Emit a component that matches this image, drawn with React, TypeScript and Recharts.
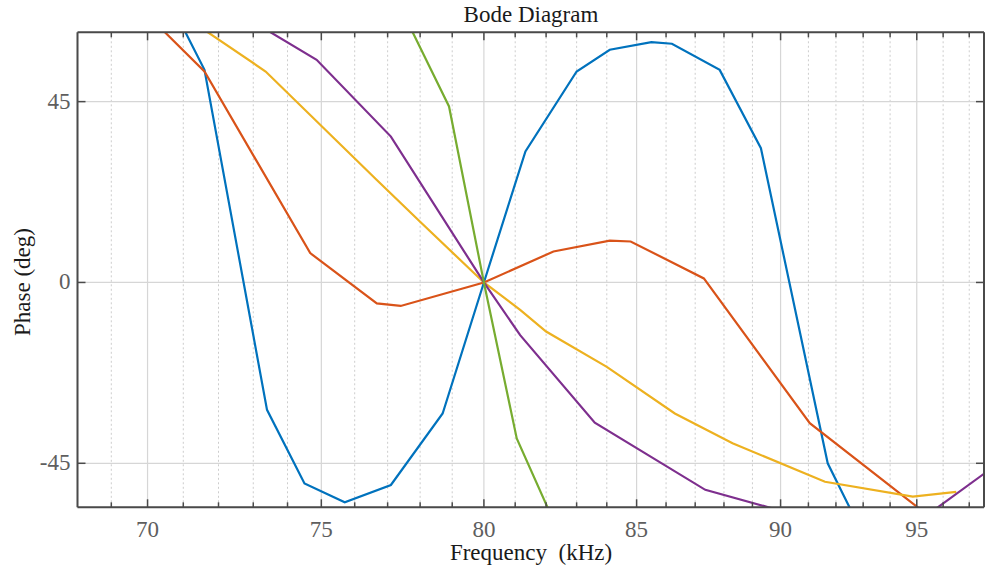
import React from 'react'
import { LineChart, Line, XAxis, YAxis, CartesianGrid } from 'recharts'

// frequency (kHz) ticks on the log axis
const majorFreqs = [70, 75, 80, 85, 90, 95]
const minorFreqs = [69, 71, 72, 73, 74, 76, 77, 78, 79, 81, 82, 83, 84, 86, 87, 88, 89, 91, 92, 93, 94, 96, 97]
const allFreqs = [69, 70, 71, 72, 73, 74, 75, 76, 77, 78, 79, 80, 81, 82, 83, 84, 85, 86, 87, 88, 89, 90, 91, 92, 93, 94, 95, 96, 97]
const phaseTicks = [-45, 0, 45]

// phase curves (kHz / deg)
const blueFreq = [70.6, 71.6, 73.4, 74.5, 75.7, 77.1, 78.7, 80, 81.33, 83.0, 84.1, 85.5, 86.2, 87.85, 89.3, 91.7, 93]
const bluePhase = [70.3, 52.9, -31.7, -50.0, -54.7, -50.4, -32.6, 0, 32.6, 52.5, 57.9, 59.8, 59.4, 52.9, 33.4, -45.0, -62.8]

const orangeFreq = [69.3, 71.6, 74.67, 76.67, 77.4, 80, 82.24, 84.1, 84.8, 87.3, 91.05, 96]
const orangePhase = [72.8, 52.5, 7.3, -5.2, -5.85, 0, 7.7, 10.4, 10.2, 1.0, -35.0, -60.9]

const yellowFreq = [70.4, 73.36, 76.67, 78.0, 80, 81.16, 82.0, 84.0, 86.3, 88.3, 91.6, 94.85, 96.5]
const yellowPhase = [70, 52.5, 25.5, 15.1, 0, -6.8, -12.2, -21.0, -32.6, -40.0, -49.6, -53.3, -52.1]

const purpleFreq = [72.0, 74.86, 77.1, 80, 81.16, 83.6, 87.35, 89.6, 94.1, 98]
const purplePhase = [70, 55.4, 36.3, 0, -13.1, -34.9, -51.6, -56, -64.1, -45.6]

const greenFreq = [77.3, 78.9, 80, 81.05, 82.3]
const greenPhase = [70, 43.8, 0, -38.8, -60.3]

const zip = (f: number[], p: number[]) => f.map((v, i) => ({ f: v, p: p[i] }))

const series = [
  { name: 'blue', color: '#0072BD', data: zip(blueFreq, bluePhase) },
  { name: 'orange', color: '#D95319', data: zip(orangeFreq, orangePhase) },
  { name: 'yellow', color: '#EDB120', data: zip(yellowFreq, yellowPhase) },
  { name: 'purple', color: '#7E2F8E', data: zip(purpleFreq, purplePhase) },
  { name: 'green', color: '#77AC30', data: zip(greenFreq, greenPhase) },
]

const X_DOMAIN: [number, number] = [68.08, 97.57]
const Y_DOMAIN: [number, number] = [-55.95, 62.25]

const AXIS = '#4a4a4a'
const TICK_TEXT = '#5e5e5e'
const FONT = "'Liberation Serif', 'Times New Roman', serif"

const BottomTick = (props: any) => {
  const { x, y, payload } = props
  const major = payload.value % 5 === 0
  return (
    <g>
      <line x1={x} x2={x} y1={y} y2={y - (major ? 8 : 5)} stroke={AXIS} strokeWidth={1.5} />
      {major && (
        <text x={x} y={y + 30} textAnchor="middle" fill={TICK_TEXT} fontSize={23} fontFamily={FONT}>
          {payload.value}
        </text>
      )}
    </g>
  )
}

const TopTick = (props: any) => {
  const { x, y, payload } = props
  const major = payload.value % 5 === 0
  return <line x1={x} x2={x} y1={y} y2={y + (major ? 8 : 5)} stroke={AXIS} strokeWidth={1.5} />
}

const LeftTick = (props: any) => {
  const { x, y, payload } = props
  return (
    <g>
      <line x1={x} x2={x + 8} y1={y} y2={y} stroke={AXIS} strokeWidth={1.5} />
      <text x={x - 7} y={y + 7} textAnchor="end" fill={TICK_TEXT} fontSize={23} fontFamily={FONT}>
        {payload.value}
      </text>
    </g>
  )
}

const RightTick = (props: any) => {
  const { x, y } = props
  return <line x1={x} x2={x - 8} y1={y} y2={y} stroke={AXIS} strokeWidth={1.5} />
}

export default function App() {
  return (
    <div style={{ position: 'absolute', left: 0, top: 0, width: 985, height: 577, background: '#fff', fontFamily: FONT }}>
      <LineChart width={985} height={577} margin={{ top: 31.3, right: 0, bottom: 29.7, left: 17.5 }}>
        <XAxis xAxisId="gmajor" type="number" dataKey="f" scale="log" domain={X_DOMAIN} allowDataOverflow ticks={majorFreqs} hide />
        <XAxis xAxisId="gminor" type="number" dataKey="f" scale="log" domain={X_DOMAIN} allowDataOverflow ticks={minorFreqs} hide />
        <CartesianGrid xAxisId="gminor" yAxisId="left" horizontal={false} stroke="#cdcdcd" strokeDasharray="2 2.5" strokeWidth={1} />
        <CartesianGrid xAxisId="gmajor" yAxisId="left" stroke="#d6d6d6" strokeWidth={1.2} />

        <XAxis
          xAxisId="bottom"
          type="number"
          dataKey="f"
          scale="log"
          domain={X_DOMAIN}
          allowDataOverflow
          ticks={allFreqs}
          interval={0}
          height={40}
          tickSize={0}
          tickMargin={0}
          tickLine={false}
          tick={<BottomTick />}
          axisLine={{ stroke: AXIS, strokeWidth: 2 }}
        />
        <XAxis
          xAxisId="top"
          orientation="top"
          type="number"
          dataKey="f"
          scale="log"
          domain={X_DOMAIN}
          allowDataOverflow
          ticks={allFreqs}
          interval={0}
          height={1}
          tickSize={0}
          tickMargin={0}
          tickLine={false}
          tick={<TopTick />}
          axisLine={{ stroke: AXIS, strokeWidth: 2 }}
        />
        <YAxis
          yAxisId="left"
          type="number"
          domain={Y_DOMAIN}
          allowDataOverflow
          ticks={phaseTicks}
          interval={0}
          width={60}
          tickSize={0}
          tickMargin={0}
          tickLine={false}
          tick={<LeftTick />}
          axisLine={{ stroke: AXIS, strokeWidth: 2 }}
        />
        <YAxis
          yAxisId="right"
          orientation="right"
          type="number"
          domain={Y_DOMAIN}
          allowDataOverflow
          ticks={phaseTicks}
          interval={0}
          width={1}
          tickSize={0}
          tickMargin={0}
          tickLine={false}
          tick={<RightTick />}
          axisLine={{ stroke: AXIS, strokeWidth: 2 }}
        />

        {series.map(s => (
          <Line
            key={s.name}
            xAxisId="bottom"
            yAxisId="left"
            data={s.data}
            dataKey="p"
            type="linear"
            stroke={s.color}
            strokeWidth={2.2}
            dot={false}
            activeDot={false}
            isAnimationActive={false}
          />
        ))}
      </LineChart>

      <div style={{ position: 'absolute', left: 331, width: 400, top: 2, textAlign: 'center', fontSize: 23, color: '#1a1a1a' }}>
        Bode Diagram
      </div>
      <div style={{ position: 'absolute', left: 331, width: 400, top: 540, textAlign: 'center', fontSize: 23, color: '#1a1a1a', whiteSpace: 'pre' }}>
        {'Frequency  (kHz)'}
      </div>
      <div
        style={{
          position: 'absolute',
          left: 23,
          top: 282,
          transform: 'translate(-50%, -50%) rotate(-90deg)',
          fontSize: 23,
          color: '#1a1a1a',
          whiteSpace: 'nowrap',
        }}
      >
        Phase (deg)
      </div>
    </div>
  )
}
